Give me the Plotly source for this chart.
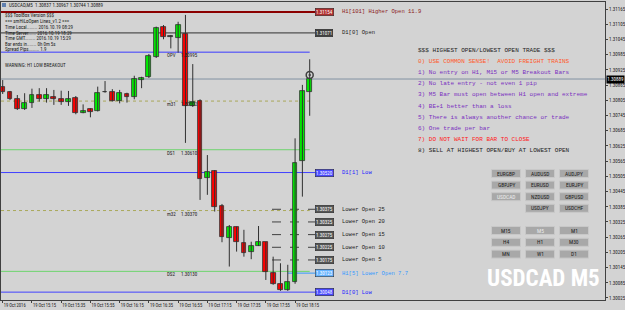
import plotly.graph_objects as go

# ---------------- data ----------------
opens  = [1.30857,1.30838,1.30810,1.30770,1.30793,1.30826,1.30809,1.30817,1.30810,1.30797,
          1.30813,1.30756,1.30770,1.30763,1.30837,1.30838,1.30804,1.30830,1.30817,1.30885,
          1.30897,1.30977,1.31096,1.31056,1.31050,1.31066,1.30783,1.30804,1.30498,1.30528,
          1.30386,1.30261,1.30304,1.30241,1.30206,1.30232,1.30245,1.30123,1.30079,1.30057,
          1.30087,1.30566,1.30837]
highs  = [1.30885,1.30842,1.30826,1.30833,1.30851,1.30853,1.30853,1.30846,1.30843,1.30842,
          1.30822,1.30789,1.30774,1.30859,1.30881,1.30849,1.30846,1.30835,1.30902,1.30898,
          1.30988,1.31096,1.31102,1.31063,1.31115,1.31142,1.30948,1.30809,1.30589,1.30530,
          1.30396,1.30313,1.30307,1.30294,1.30247,1.30309,1.30246,1.30188,1.30162,1.30156,
          1.30655,1.30866,1.30967]
lows   = [1.30830,1.30806,1.30767,1.30767,1.30775,1.30800,1.30796,1.30787,1.30787,1.30783,
          1.30750,1.30754,1.30738,1.30761,1.30835,1.30800,1.30793,1.30796,1.30809,1.30853,
          1.30893,1.30972,1.31046,1.31010,1.30993,1.30637,1.30779,1.30412,1.30432,1.30366,
          1.30245,1.30149,1.30208,1.30188,1.30178,1.30230,1.30096,1.30077,1.30053,1.30053,
          1.30081,1.30425,1.30744]
closes = [1.30837,1.30810,1.30771,1.30793,1.30826,1.30809,1.30826,1.30811,1.30797,1.30810,
          1.30756,1.30763,1.30760,1.30835,1.30837,1.30804,1.30833,1.30819,1.30889,1.30892,
          1.30980,1.31089,1.31056,1.31056,1.31102,1.30783,1.30800,1.30494,1.30524,1.30383,
          1.30267,1.30304,1.30247,1.30204,1.30230,1.30247,1.30128,1.30079,1.30057,1.30087,
          1.30557,1.30843,1.30889]

x_tick_pos    = [0, 4, 8, 12, 16, 20, 24, 28, 32, 36, 40]
x_tick_labels = ["19 Oct 2016", "19 Oct 15:15", "19 Oct 15:35", "19 Oct 15:55", "19 Oct 16:15",
                 "19 Oct 16:35", "19 Oct 16:55", "19 Oct 17:15", "19 Oct 17:35", "19 Oct 17:55",
                 "19 Oct 18:15"]
y_tick_vals = [1.31165, 1.31105, 1.31045, 1.30985, 1.30925, 1.30865, 1.30805, 1.30745, 1.30685,
               1.30625, 1.30565, 1.30505, 1.30445, 1.30385, 1.30325, 1.30265, 1.30205, 1.30145,
               1.30085, 1.30025]
bid_price = 1.30889
marker_price = 1.30905

# left-side level lines (name, price)
mid_names  = ["OPV", "m31", "DS1", "m32", "DS2"]
mid_prices = [1.30995, 1.30802, 1.30610, 1.30370, 1.30130]
# right-side labelled levels
lvl_texts  = ["H1[101] Higher Open 11.9", "D1[0] Open", "D1[1] Low", "Lower Open 25", "Lower Open 20",
              "Lower Open 15", "Lower Open 10", "Lower Open 5", "H1[5] Lower Open 7.7", "D1[0] Low"]
lvl_prices = [1.31154, 1.31071, 1.30520, 1.30375, 1.30325, 1.30275, 1.30225, 1.30175, 1.30123, 1.30048]

info_lines = ["$$$ ToolBox Version $$$", "=== smHiLoOpen Lines_v1.2 ===",
              "Time Local........ 2016.10.19 08:29", "Time Server...... 2016.10.19 18:29",
              "Time GMT........ 2016.10.19 15:29", "Bar ends in....... 0h 0m 5s",
              "Spread Pips........ 1.9"]
warning_text = "WARNING: H1 LOW BREAKOUT"
header_text = "USDCAD,M5  1.30837 1.30967 1.30744 1.30889"

rules_lines = ["$$$ HIGHEST OPEN/LOWEST OPEN TRADE $$$",
               "0) USE COMMON SENSE!  AVOID FREIGHT TRAINS",
               "1) No entry on H1, M15 or M5 Breakout Bars",
               "2) No late entry - not even 1 pip",
               "3) M5 Bar must open between H1 open and extreme",
               "4) BE+1 better than a loss",
               "5) There is always another chance or trade",
               "6) One trade per bar",
               "7) DO NOT WAIT FOR BAR TO CLOSE",
               "8) SELL AT HIGHEST OPEN/BUY AT LOWEST OPEN"]
rules_colors = ["#222222", "#ff5a2a", "#7a2fc0", "#7a2fc0", "#7a2fc0", "#7a2fc0", "#7a2fc0",
                "#7a2fc0", "#ff2020", "#222222"]

pair_rows = [["EURGBP", "AUDUSD", "AUDJPY"], ["GBPJPY", "EURUSD", "EURJPY"],
             ["USDCAD", "NZDUSD", "GBPUSD"], ["", "USDJPY", "USDCHF"]]
tf_rows = [["M15", "M5", "M1"], ["H4", "H1", "M30"], ["MN", "W1", "D1"]]
selected = ["USDCAD", "M5"]
big_title = "USDCAD M5"

# ---------------- geometry ----------------
W, H = 625, 310
ML, MR, MT, MB = 1, 20, 2, 10
PW, PH = W - ML - MR, H - MT - MB
XMIN, XMAX = -0.233, 82.40
YMIN, YMAX = 1.30017, 1.31193

def px2x(px):
    return XMIN + (px - ML) / PW * (XMAX - XMIN)

def pxp(px):
    return (px - ML) / PW

def pyp(py):
    return (H - MB - py) / PH

SANS = "Roboto Condensed, DejaVu Sans Condensed, Liberation Sans Narrow, Liberation Sans"
MONO = "Liberation Mono, Courier New, monospace"
BG = "#d3d3d3"
DARK = "#303030"

fig = go.Figure()

idx = list(range(len(opens)))
wx, wy = [], []
for i in idx:
    wx += [i, i, None]
    wy += [lows[i], highs[i], None]
fig.add_trace(go.Scatter(x=wx, y=wy, mode="lines", line=dict(color=DARK, width=1),
                         hoverinfo="skip", showlegend=False))

body_base, body_h, body_col = [], [], []
for o, c in zip(opens, closes):
    body_base.append(min(o, c))
    body_h.append(max(abs(c - o), 0.000012))
    body_col.append("#00ee00" if c > o else ("#ff0000" if c < o else DARK))
fig.add_trace(go.Bar(x=idx, y=body_h, base=body_base, width=0.66,
                     marker=dict(color=body_col, line=dict(color=DARK, width=0.8)),
                     showlegend=False, hoverinfo="skip"))

fig.add_trace(go.Scatter(x=[len(opens) - 1], y=[marker_price], mode="markers",
                         marker=dict(symbol="circle-open-dot", size=7, color="#404040",
                                     line=dict(width=1.5)),
                         showlegend=False, hoverinfo="skip"))

shapes = []
ann = []

def hline(y, x0, x1, color, width=1, dash="solid"):
    shapes.append(dict(type="line", xref="x", yref="y", x0=x0, x1=x1, y0=y, y1=y,
                       line=dict(color=color, width=width, dash=dash), layer="below"))

last_bar = len(opens) - 1
# bid line
hline(bid_price, XMIN, XMAX, "#8291a3")
# mid lines
mid_styles = [("#3a3aff", "solid"), ("#a9a85a", "dot"), ("#6fd46f", "solid"),
              ("#a9a85a", "dot"), ("#6fd46f", "solid")]
for name, p, (col, dash) in zip(mid_names, mid_prices, mid_styles):
    hline(p, XMIN, last_bar, col, 1, dash)
    ann.append(dict(x=px2x(165), y=p, yshift=-3, text=name, xanchor="left", yanchor="middle",
                    showarrow=False, font=dict(family=SANS, size=5, color="#202020")))
    ann.append(dict(x=px2x(179), y=p, yshift=-3, text=f"{p:.5f}", xanchor="left", yanchor="middle",
                    showarrow=False, font=dict(family=SANS, size=5, color="#202020")))

# right labelled levels
lvl_line = ["#8b0000", "#303030", "#4040ff", "#404040", "#404040", "#404040", "#404040", "#404040",
            "#3399ff", "#4040ff"]
lvl_box = ["#b03030", "#404040", "#4a4aff", "#555555", "#555555", "#555555", "#555555", "#555555",
           "#66b3ff", "#4a4aff"]
lvl_txt = ["#8b1a1a", "#202020", "#2020ff", "#202020", "#202020", "#202020", "#202020", "#202020",
           "#3399ff", "#2020ff"]
for k, (t, p) in enumerate(zip(lvl_texts, lvl_prices)):
    if t.startswith("Lower Open"):
        hline(p, px2x(272), px2x(315), lvl_line[k], 1, "dash")
    elif t.startswith("H1[5]"):
        hline(p, px2x(288), px2x(315), lvl_line[k], 1)
    else:
        hline(p, XMIN, px2x(315), lvl_line[k], 2 if k == 0 else 1)
    ann.append(dict(x=px2x(315), y=p, text=f"{p:.5f}", xanchor="left", yanchor="middle",
                    showarrow=False, bgcolor=lvl_box[k], bordercolor="#202020", borderwidth=0.5,
                    borderpad=0.5, font=dict(family=SANS, size=5, color="white")))
    ann.append(dict(x=px2x(340), y=p, text=t, xanchor="left", yanchor="middle", showarrow=False,
                    font=dict(family=MONO, size=5.5, color=lvl_txt[k])))

# bid box on axis
ann.append(dict(xref="paper", x=pxp(606), y=bid_price, text=f"{bid_price:.5f}", xanchor="left",
                yanchor="middle", showarrow=False, bgcolor="black", borderpad=0.3,
                font=dict(family=SANS, size=5, color="white")))

# header and info
ann.append(dict(xref="paper", yref="paper", x=pxp(7), y=pyp(5), text=header_text, xanchor="left",
                yanchor="middle", showarrow=False, font=dict(family=SANS, size=5, color="#202020")))
shapes.append(dict(type="rect", xref="paper", yref="paper", x0=pxp(2), x1=pxp(6), y0=pyp(3),
                   y1=pyp(7), fillcolor="#6080b0", line=dict(width=0)))
info_y = [15, 21, 26.7, 32.5, 38.3, 43.6, 49]
for t, yy in zip(info_lines, info_y):
    ann.append(dict(xref="paper", yref="paper", x=pxp(3), y=pyp(yy), text=t, xanchor="left",
                    yanchor="middle", showarrow=False, font=dict(family=SANS, size=5, color="#202020")))
ann.append(dict(xref="paper", yref="paper", x=pxp(3), y=pyp(65), text=warning_text, xanchor="left",
                yanchor="middle", showarrow=False, font=dict(family=SANS, size=5, color="#202020")))

# rules block
for k, (t, c) in enumerate(zip(rules_lines, rules_colors)):
    yy = 50.7 + k * 11.07
    ann.append(dict(xref="paper", yref="paper", x=pxp(416), y=pyp(yy), text=t.replace(" ", "&nbsp;"),
                    xanchor="left", yanchor="middle", showarrow=False,
                    font=dict(family=MONO, size=6, color=c)))

# buttons
col_x = [491.5, 525.5, 559.5]
bw, bh = 29, 8

def button(txt, x0, y0):
    shapes.append(dict(type="rect", xref="paper", yref="paper", x0=pxp(x0), x1=pxp(x0 + bw),
                       y0=pyp(y0 + bh), y1=pyp(y0), fillcolor="#a8a8a8",
                       line=dict(color="#c8c8c8", width=1)))
    ann.append(dict(xref="paper", yref="paper", x=pxp(x0 + bw / 2), y=pyp(y0 + bh / 2), text=txt,
                    xanchor="center", yanchor="middle", showarrow=False,
                    font=dict(family=SANS, size=5.5,
                              color="#ececec" if txt in selected else "#202020")))

for r, row in enumerate(pair_rows):
    for c, t in enumerate(row):
        if t:
            button(t, col_x[c], 169.5 + r * 11.6)
for r, row in enumerate(tf_rows):
    for c, t in enumerate(row):
        button(t, col_x[c], 226.5 + r * 11.8)

ann.append(dict(xref="paper", yref="paper", x=pxp(543), y=pyp(278), text=f"<b>{big_title}</b>",
                xanchor="center", yanchor="middle", showarrow=False,
                font=dict(family="Roboto Condensed, DejaVu Sans Condensed, Liberation Sans Narrow, Liberation Sans",
                          size=23, color="white")))

fig.update_layout(
    width=W, height=H, margin=dict(l=ML, r=MR, t=MT, b=MB, autoexpand=False),
    paper_bgcolor=BG, plot_bgcolor=BG, bargap=0, showlegend=False,
    shapes=shapes, annotations=ann,
    xaxis=dict(range=[XMIN, XMAX], tickvals=x_tick_pos, ticktext=x_tick_labels, tickangle=0,
               automargin=False,
               ticklabelposition="outside right", ticks="outside", ticklen=2, tickcolor="#404040",
               showgrid=False, zeroline=False, showline=True, linecolor="#404040", linewidth=1,
               mirror=True, tickfont=dict(family=SANS, size=4.6, color="#202020")),
    yaxis=dict(range=[YMIN, YMAX], side="right", tickvals=y_tick_vals, automargin=False,
               ticktext=[f"{v:.5f}" for v in y_tick_vals], ticks="outside", ticklen=2,
               tickcolor="#404040", showgrid=False, zeroline=False, showline=True,
               linecolor="#404040", linewidth=1, mirror=True,
               tickfont=dict(family=SANS, size=5, color="#202020")),
)

fig.write_html("out.html")
